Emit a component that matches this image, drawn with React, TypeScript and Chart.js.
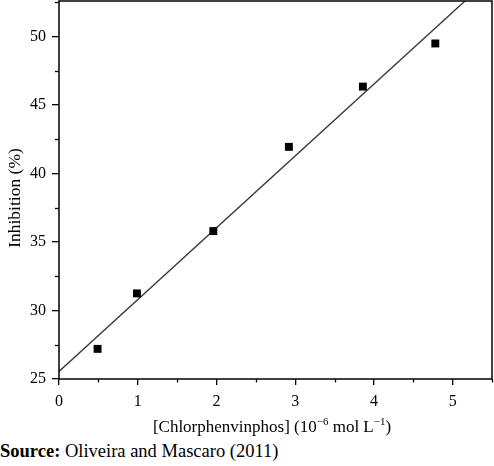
import React, { useEffect, useRef } from "react";
import { Chart, registerables } from "chart.js";

Chart.register(...registerables);

const pointX = [0.49, 0.99, 1.96, 2.92, 3.86, 4.78];
const pointY = [27.2, 31.25, 35.8, 41.95, 46.35, 49.5];
const fitX = [0, 5.5];
const fitY = [25.55, 54.4];
// x-axis title pieces: [text, isSuperscript]
const xTitleParts: [string, boolean][] = [
  ["[Chlorphenvinphos] (10", false],
  ["−6", true],
  [" mol L", false],
  ["−1", true],
  [")", false],
];
const yTitle = "Inhibition (%)";
const sourceLabel = "Source:";
const sourceText = " Oliveira and Mascaro (2011)";

const FONT = "'Liberation Serif', 'Times New Roman', serif";
const W = 494;
const H = 440;

const framePlugin = {
  id: "frame",
  afterDraw(chart: any) {
    const { ctx, chartArea } = chart;
    const { left, right, top, bottom } = chartArea;
    ctx.save();
    ctx.strokeStyle = "#000";
    ctx.lineWidth = 1.5;
    ctx.strokeRect(left, top, right - left, bottom - top);
    // minor ticks
    ctx.lineWidth = 1.3;
    const xs = chart.scales.x;
    xs.ticks.forEach((t: any) => {
      if (Math.abs(t.value - Math.round(t.value)) > 1e-6) {
        const px = Math.round(xs.getPixelForValue(t.value)) + 0.5;
        ctx.beginPath();
        ctx.moveTo(px, bottom);
        ctx.lineTo(px, bottom + 3.5);
        ctx.stroke();
      }
    });
    const ys = chart.scales.y;
    ys.ticks.forEach((t: any) => {
      if (Math.abs(t.value / 5 - Math.round(t.value / 5)) > 1e-6) {
        const py = Math.round(ys.getPixelForValue(t.value)) + 0.5;
        ctx.beginPath();
        ctx.moveTo(left, py);
        ctx.lineTo(left - 4, py);
        ctx.stroke();
      }
    });

    // x title with superscripts
    ctx.fillStyle = "#000";
    ctx.textBaseline = "alphabetic";
    ctx.textAlign = "left";
    const main = 17;
    const sup = 11;
    const widths = xTitleParts.map(([t, s]) => {
      ctx.font = `${s ? sup : main}px ${FONT}`;
      return ctx.measureText(t).width;
    });
    const total = widths.reduce((a, b) => a + b, 0);
    let x = 272 - total / 2;
    const baseY = 432;
    xTitleParts.forEach(([t, s], i) => {
      ctx.font = `${s ? sup : main}px ${FONT}`;
      ctx.fillText(t, x, s ? baseY - 7 : baseY);
      x += widths[i];
    });

    // y title rotated
    ctx.save();
    ctx.translate(20, 198);
    ctx.rotate(-Math.PI / 2);
    ctx.font = `17.5px ${FONT}`;
    ctx.textAlign = "center";
    ctx.textBaseline = "alphabetic";
    ctx.fillText(yTitle, 0, 0);
    ctx.restore();

    ctx.restore();
  },
};

const zeroPad = (s: any) => {
  s.paddingTop = 0;
  s.paddingBottom = 0;
  s.paddingLeft = 0;
  s.paddingRight = 0;
};

export default function App() {
  const ref = useRef<HTMLCanvasElement | null>(null);

  useEffect(() => {
    document.body.style.margin = "0";
    const canvas = ref.current;
    if (!canvas) return;
    const chart = new Chart(canvas, {
      type: "scatter",
      data: {
        datasets: [
          {
            type: "line",
            data: fitX.map((x, i) => ({ x, y: fitY[i] })),
            borderColor: "#3a3a3a",
            borderWidth: 1.4,
            pointRadius: 0,
            fill: false,
            order: 2,
          },
          {
            type: "scatter",
            data: pointX.map((x, i) => ({ x, y: pointY[i] })),
            pointStyle: "rect",
            pointRadius: 5.6,
            backgroundColor: "#000",
            borderColor: "#000",
            borderWidth: 0,
            order: 1,
          },
        ],
      },
      options: {
        responsive: false,
        animation: false,
        devicePixelRatio: 1,
        layout: { autoPadding: false, padding: { top: 1, right: 2, left: 0, bottom: 0 } },
        plugins: {
          legend: { display: false },
          tooltip: { enabled: false },
        },
        scales: {
          x: {
            type: "linear",
            min: 0,
            max: 5.5,
            afterFit: (s: any) => {
              s.height = H - 379;
              zeroPad(s);
            },
            border: { display: false },
            grid: {
              drawOnChartArea: false,
              drawTicks: true,
              tickLength: 6,
              lineWidth: 1.3,
              tickColor: (c: any) =>
                c.tick && Math.abs(c.tick.value - Math.round(c.tick.value)) < 1e-6 ? "#000" : "rgba(0,0,0,0)",
            },
            ticks: {
              stepSize: 0.5,
              includeBounds: false,
              autoSkip: false,
              maxRotation: 0,
              padding: 7,
              color: "#000",
              font: { family: FONT, size: 16 },
              callback: (v: any) => (Math.abs(v - Math.round(v)) < 1e-6 ? String(Math.round(v)) : ""),
            },
            title: { display: false },
          },
          y: {
            type: "linear",
            min: 25,
            max: 52.6,
            afterFit: (s: any) => {
              s.width = 59;
              zeroPad(s);
            },
            border: { display: false },
            grid: {
              drawOnChartArea: false,
              drawTicks: true,
              tickLength: 7,
              lineWidth: 1.3,
              tickColor: (c: any) =>
                c.tick && Math.abs(c.tick.value / 5 - Math.round(c.tick.value / 5)) < 1e-6 ? "#000" : "rgba(0,0,0,0)",
            },
            ticks: {
              stepSize: 2.5,
              includeBounds: false,
              autoSkip: false,
              padding: 6,
              color: "#000",
              font: { family: FONT, size: 16 },
              callback: (v: any) => (Math.abs(v / 5 - Math.round(v / 5)) < 1e-6 ? String(Math.round(v)) : ""),
            },
            title: { display: false },
          },
        },
      },
      plugins: [framePlugin],
    } as any);
    return () => chart.destroy();
  }, []);

  return (
    <div style={{ position: "relative", width: W, height: 466, background: "#fff" }}>
      <canvas ref={ref} width={W} height={H} style={{ display: "block", width: W, height: H }} />
      <div
        style={{
          position: "absolute",
          left: 0,
          top: 440,
          fontFamily: FONT,
          fontSize: 18.5,
          lineHeight: "22px",
          color: "#000",
          whiteSpace: "nowrap",
        }}
      >
        <b>{sourceLabel}</b>
        {sourceText}
      </div>
    </div>
  );
}
